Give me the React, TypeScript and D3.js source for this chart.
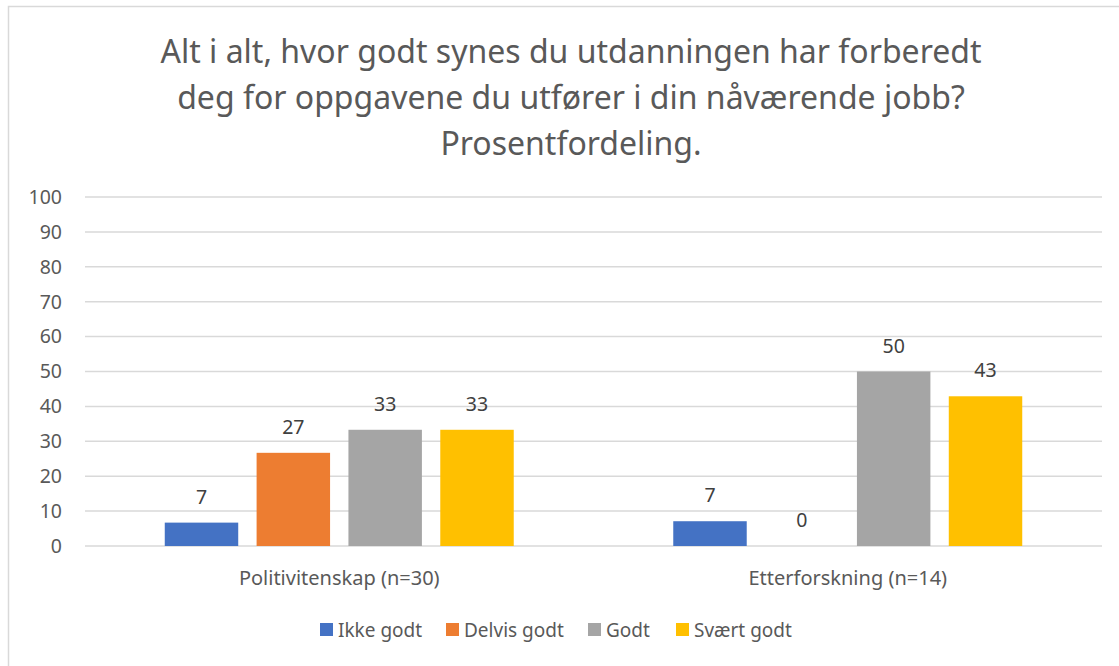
import React, { useEffect } from "react";
import * as d3 from "d3";

const titleLines = [
  "Alt i alt, hvor godt synes du utdanningen har forberedt",
  "deg for oppgavene du utfører i din nåværende jobb?",
  "Prosentfordeling.",
];
const categories = ["Politivitenskap (n=30)", "Etterforskning (n=14)"];
const seriesNames = ["Ikke godt", "Delvis godt", "Godt", "Svært godt"];
const seriesColors = ["#4472C4", "#ED7D31", "#A5A5A5", "#FFC000"];
const ikkeGodt = [6.7, 7.1];
const delvisGodt = [26.7, 0];
const godt = [33.3, 50.0];
const svaertGodt = [33.3, 42.9];
const yTicks = [0, 10, 20, 30, 40, 50, 60, 70, 80, 90, 100];

const FONT = "Noto Sans, sans-serif";
const TEXT = "#595959";

function App() {
  const ref = React.useRef<SVGSVGElement>(null);

  useEffect(() => {
    const svg = d3.select(ref.current);
    svg.selectAll("*").remove();

    const values = [ikkeGodt, delvisGodt, godt, svaertGodt];

    // chart frame (right/bottom edges fall outside the picture)
    svg.append("rect")
      .attr("x", 8.5).attr("y", 6.5)
      .attr("width", 1200).attr("height", 800)
      .attr("fill", "#fff").attr("stroke", "#d9d9d9").attr("stroke-width", 1.5);

    // title
    svg.append("g").selectAll("text")
      .data(titleLines)
      .enter().append("text")
      .attr("x", 571)
      .attr("y", (d, i) => 63 + i * 46)
      .attr("text-anchor", "middle")
      .attr("font-family", FONT)
      .attr("font-size", 32)
      .attr("fill", TEXT)
      .text(d => d);

    const left = 85, right = 1102, top = 197, bottom = 546;

    const y = d3.scaleLinear().domain([0, 100]).range([bottom, top]);
    const x0 = d3.scaleBand().domain(categories).range([left, right])
      .paddingInner(0.3137).paddingOuter(0.3137 / 2);
    const x1 = d3.scaleBand().domain(seriesNames).range([0, x0.bandwidth()])
      .paddingInner(0.2).paddingOuter(0);

    // gridlines
    svg.append("g").selectAll("line")
      .data(yTicks)
      .enter().append("line")
      .attr("x1", left).attr("x2", right)
      .attr("y1", d => y(d)).attr("y2", d => y(d))
      .attr("stroke", "#d9d9d9").attr("stroke-width", 1.5);

    // y labels
    svg.append("g").selectAll("text")
      .data(yTicks)
      .enter().append("text")
      .attr("x", 62)
      .attr("y", d => y(d))
      .attr("dy", "0.35em")
      .attr("text-anchor", "end")
      .attr("font-family", FONT)
      .attr("font-size", 19.5)
      .attr("fill", TEXT)
      .text(d => d);

    // bars
    const groups = svg.append("g").selectAll("g")
      .data(categories)
      .enter().append("g")
      .attr("transform", d => "translate(" + x0(d) + ",0)");

    groups.selectAll("rect")
      .data((c, ci) => seriesNames.map((s, si) => ({ s, si, v: values[si][ci] })))
      .enter().append("rect")
      .attr("x", d => x1(d.s)!)
      .attr("y", d => y(d.v))
      .attr("width", x1.bandwidth())
      .attr("height", d => bottom - y(d.v))
      .attr("fill", d => seriesColors[d.si]);

    groups.selectAll("text")
      .data((c, ci) => seriesNames.map((s, si) => ({ s, si, v: values[si][ci] })))
      .enter().append("text")
      .attr("x", d => x1(d.s)! + x1.bandwidth() / 2)
      .attr("y", d => y(d.v) - 19)
      .attr("text-anchor", "middle")
      .attr("font-family", FONT)
      .attr("font-size", 19.5)
      .attr("fill", "#404040")
      .text(d => Math.round(d.v));

    // category labels
    svg.append("g").selectAll("text")
      .data(categories)
      .enter().append("text")
      .attr("x", d => x0(d)! + x0.bandwidth() / 2)
      .attr("y", 585)
      .attr("text-anchor", "middle")
      .attr("font-family", FONT)
      .attr("font-size", 20)
      .attr("fill", TEXT)
      .text(d => d);

    // legend
    const legendX = [320, 446, 588, 676];
    const lg = svg.append("g").selectAll("g")
      .data(seriesNames)
      .enter().append("g")
      .attr("transform", (d, i) => "translate(" + legendX[i] + ",623)");
    lg.append("rect")
      .attr("width", 13).attr("height", 13)
      .attr("fill", (d, i) => seriesColors[i]);
    lg.append("text")
      .attr("x", 18).attr("y", 14)
      .attr("font-family", FONT)
      .attr("font-size", 19)
      .attr("fill", TEXT)
      .text(d => d);
  }, []);

  return <svg
    ref={ref}
    width={1119}
    height={666}
    style={{ position: "absolute", left: 0, top: 0, background: "#fff" }}
  />;
}
export default App;
